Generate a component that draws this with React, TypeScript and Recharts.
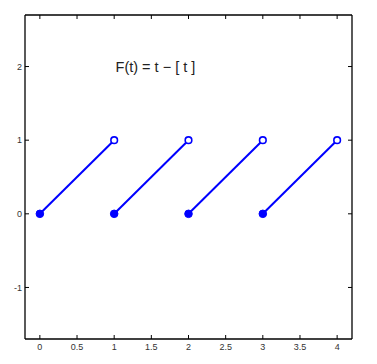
import { LineChart, Line, XAxis, YAxis, ReferenceDot } from 'recharts';

// segment endpoints of F(t) = t - [t]
const tStart = [0, 1, 2, 3];
const fStart = [0, 0, 0, 0];
const tEnd = [1, 2, 3, 4];
const fEnd = [1, 1, 1, 1];

const xTicks = [0, 0.5, 1, 1.5, 2, 2.5, 3, 3.5, 4];
const yTicks = [-1, 0, 1, 2];
const title = 'F(t) = t \u2212 [ t ]';

const segments = tStart.map((t, i) => [
  { t, F: fStart[i] },
  { t: tEnd[i], F: fEnd[i] },
]);

const BLUE = '#0000ff';
const TICK_LEN = 4;
const FONT = '"Liberation Sans", Arial, sans-serif';

const BottomTick = (props: any) => {
  const { x, y, payload } = props;
  return (
    <g>
      <line x1={x} x2={x} y1={y - 5} y2={y - 5 - TICK_LEN} stroke="#000" />
      <text x={x} y={y} dy="0.71em" textAnchor="middle" fontSize={9} fill="#333">
        {payload.value}
      </text>
    </g>
  );
};

const LeftTick = (props: any) => {
  const { x, y, payload } = props;
  return (
    <g>
      <line x1={x + 3} x2={x + 3 + TICK_LEN} y1={y} y2={y} stroke="#000" />
      <text x={x} y={y} dy="0.355em" textAnchor="end" fontSize={9} fill="#333">
        {payload.value}
      </text>
    </g>
  );
};

const TopTick = (props: any) => {
  const { x, y } = props;
  return <line x1={x} x2={x} y1={y} y2={y + TICK_LEN} stroke="#000" />;
};

const RightTick = (props: any) => {
  const { x, y } = props;
  return <line x1={x} x2={x - TICK_LEN} y1={y} y2={y} stroke="#000" />;
};

const EndDot = (props: any) => {
  const { cx, cy, index } = props;
  if (index === 0) {
    return <circle key={`d${index}`} cx={cx} cy={cy} r={3.8} fill={BLUE} stroke={BLUE} />;
  }
  return <circle key={`d${index}`} cx={cx} cy={cy} r={3.3} fill="#fff" stroke={BLUE} strokeWidth={1.6} />;
};

export default function App() {
  const axisLine = { stroke: '#000', strokeWidth: 1.3 };
  return (
    <LineChart
      width={369}
      height={356}
      margin={{ top: 6, right: 24, left: 0, bottom: 0 }}
      style={{ fontFamily: FONT }}
    >
      <XAxis
        xAxisId="b"
        dataKey="t"
        type="number"
        domain={[-0.2, 4.2]}
        ticks={xTicks}
        allowDataOverflow
        height={25}
        tickSize={0}
        tickMargin={5}
        tickLine={false}
        axisLine={axisLine}
        tick={<BottomTick />}
      />
      <XAxis
        xAxisId="top"
        orientation="top"
        dataKey="t"
        type="number"
        domain={[-0.2, 4.2]}
        ticks={xTicks}
        allowDataOverflow
        height={1}
        tickSize={0}
        tickMargin={0}
        tickLine={false}
        axisLine={axisLine}
        tick={<TopTick />}
      />
      <YAxis
        yAxisId="l"
        type="number"
        domain={[-1.7, 2.7]}
        ticks={yTicks}
        allowDataOverflow
        width={17}
        tickSize={0}
        tickMargin={3}
        tickLine={false}
        axisLine={axisLine}
        tick={<LeftTick />}
      />
      <YAxis
        yAxisId="r"
        orientation="right"
        type="number"
        domain={[-1.7, 2.7]}
        ticks={yTicks}
        allowDataOverflow
        width={1}
        tickSize={0}
        tickMargin={0}
        tickLine={false}
        axisLine={axisLine}
        tick={<RightTick />}
      />
      {segments.map((seg, i) => (
        <Line
          key={i}
          xAxisId="b"
          yAxisId="l"
          data={seg}
          dataKey="F"
          stroke={BLUE}
          strokeWidth={2}
          dot={<EndDot />}
          activeDot={false}
          isAnimationActive={false}
        />
      ))}
      <ReferenceDot
        xAxisId="b"
        yAxisId="l"
        x={1.555}
        y={2}
        r={0}
        stroke="none"
        fill="none"
        label={{ value: title, position: 'center', fontSize: 14.5, fill: '#222', fontFamily: FONT }}
      />
    </LineChart>
  );
}
